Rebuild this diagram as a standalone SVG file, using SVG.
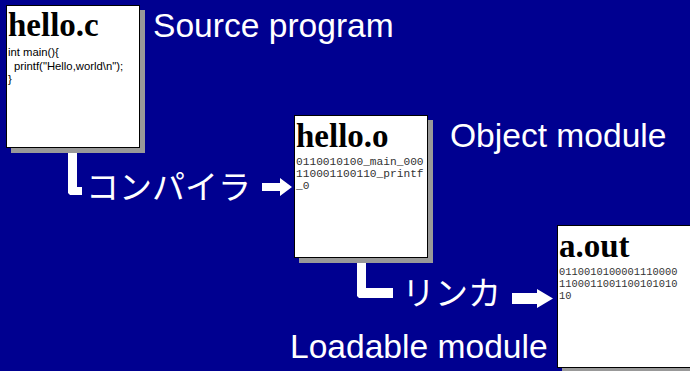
<svg xmlns="http://www.w3.org/2000/svg" width="690" height="371" viewBox="0 0 690 371">
  <style>
    .label { font-family: "Liberation Sans", Arial, sans-serif; font-size: 33.6px; fill: #ffffff; }
    .jp { font-family: "Noto Sans CJK JP", "Liberation Sans", sans-serif; font-size: 33px; fill: #ffffff; }
    .title { font-family: "Liberation Serif", "Times New Roman", serif; font-weight: bold; font-size: 33px; fill: #000000; }
    .src { font-family: "Liberation Sans", Arial, sans-serif; font-size: 11.3px; fill: #000000; }
    .bin { font-family: "Liberation Mono", "Courier New", monospace; fill: #333333; }
    .card { fill: #ffffff; stroke: #000000; stroke-width: 1; }
    .shadow { fill: #999999; }
    .flow { fill: #ffffff; }
  </style>

  <rect x="0" y="0" width="690" height="371" fill="#000090"/>

  <!-- connectors: L-shaped leaders and block arrows -->
  <g id="connectors">
    <path class="flow" d="M68,150 H77 V187 H82 V195 H70 L68,193 Z"/>
    <path class="flow" d="M262,183 H280 V178 L292,187 L280,196 V191 H262 Z"/>
    <path class="flow" d="M357,258 H366 V288 H393 V298 H359 L357,296 Z"/>
    <path class="flow" d="M512,293 H537 V289 L553,298.5 L537,308 V304 H512 Z"/>
  </g>

  <g id="source">
    <rect class="shadow" x="11" y="10" width="134" height="143"/>
    <rect class="card" x="6.5" y="5.5" width="133" height="142"/>
    <text class="title" x="8" y="36">hello.c</text>
    <text class="src" x="8" y="56">int main(){</text>
    <text class="src" x="14" y="69.5">printf("Hello,world\n");</text>
    <text class="src" x="8" y="83">}</text>
  </g>

  <g id="object">
    <rect class="shadow" x="299" y="120" width="134" height="143"/>
    <rect class="card" x="294.5" y="115.5" width="133" height="142"/>
    <text class="title" x="296" y="147">hello.o</text>
    <text class="bin" x="296" y="165" font-size="11.2">0110010100_main_000</text>
    <text class="bin" x="296" y="177" font-size="11.2">110001100110_printf</text>
    <text class="bin" x="296" y="189" font-size="11.2">_0</text>
  </g>

  <g id="loadable">
    <rect class="shadow" x="562" y="230" width="134" height="143"/>
    <rect class="card" x="557.5" y="225.5" width="140" height="142"/>
    <text class="title" x="559" y="257">a.out</text>
    <text class="bin" x="559" y="275" font-size="10.4">0110010100001110000</text>
    <text class="bin" x="559" y="287" font-size="10.4">1100011001100101010</text>
    <text class="bin" x="559" y="299" font-size="10.4">10</text>
  </g>

  <g id="labels">
    <text class="label" x="153" y="37">Source program</text>
    <text class="label" x="450" y="147">Object module</text>
    <text class="label" x="290" y="358">Loadable module</text>
    <text class="jp" x="86" y="199">コンパイラ</text>
    <text class="jp" x="402" y="305">リンカ</text>
  </g>
</svg>
